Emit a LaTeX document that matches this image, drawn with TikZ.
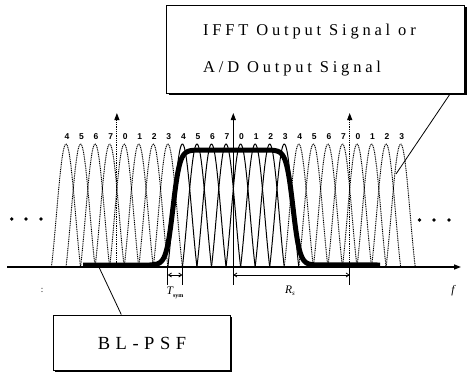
\documentclass[tikz,border=0pt]{standalone}
\usepackage{fontspec}
\setmainfont{Liberation Serif}
\newfontfamily\boxfont[LetterSpace=23]{Liberation Serif}
\newfontfamily\psffont[LetterSpace=30]{Liberation Serif}
\newfontfamily\numfont{Liberation Sans}
\usetikzlibrary{arrows.meta,shadows}
\begin{document}
\begin{tikzpicture}[x=1pt,y=-1pt,
  dothump/.style={line width=0.95pt, dash pattern=on 1pt off 0.8pt},
  solhump/.style={line width=1pt},
  psf/.style={line width=5pt, line join=round, line cap=butt},
  labbox/.style={draw, fill=white, line width=0.9pt,
    drop shadow={shadow xshift=1.8pt, shadow yshift=-1.8pt, opacity=1, fill=black}},
  peakarrow/.style={-{Triangle[length=7pt,width=5pt]}, line width=1pt},
  dotpeak/.style={peakarrow, dash pattern=on 1pt off 0.8pt},
  dimarrow/.style={{Straight Barb[length=3pt,width=4pt]}-{Straight Barb[length=3pt,width=4pt]}, line width=0.8pt},
  tick/.style={line width=0.8pt},
  dot/.style={circle, fill, inner sep=0pt, minimum size=3.8pt},
  numlab/.style={font=\numfont\bfseries\fontsize{8.5}{9}\selectfont, inner sep=0pt},
  axlab/.style={font=\fontsize{11.5}{11.5}\selectfont\itshape, inner sep=0pt},
  leader/.style={line width=0.8pt}
]
\useasboundingbox (0,0) rectangle (468,375);

% dotted sub-carriers
\foreach \k in {0,...,7,16,17,...,23} {
  \pgfmathsetmacro\px{66+14.55*\k}
  \draw[dothump] plot[domain=-1:1, samples=40, smooth]
    ({\px+14.55*\x},{267-123*sin(180*\x)/(3.14159*\x)});
}
% solid sub-carriers
\foreach \k in {8,...,15} {
  \pgfmathsetmacro\px{66+14.55*\k}
  \draw[solhump] plot[domain=-1:1, samples=40, smooth]
    ({\px+14.55*\x},{267-123*sin(180*\x)/(3.14159*\x)});
}
% index labels
\foreach \k in {0,...,23} {
  \pgfmathsetmacro\px{66+14.55*\k+1}
  \pgfmathtruncatemacro\lab{mod(\k+4,8)}
  \node[numlab] (n\k) at (\px,137) {\lab};
}

% axis
\coordinate (ax0) at (7,267);
\coordinate (ax1) at (461,267);
\draw[-{Triangle[length=7pt,width=5pt]}, line width=1.3pt] (ax0) -- (ax1);

% peak arrows
\coordinate (pa1b) at (116.9,267); \coordinate (pa1t) at (116.9,113);
\coordinate (pa2b) at (233.3,267); \coordinate (pa2t) at (233.3,113);
\coordinate (pa3b) at (349.7,267); \coordinate (pa3t) at (349.7,113);
\draw[dotpeak] (pa1b) -- (pa1t);
\draw[peakarrow] (pa2b) -- (pa2t);
\draw[dotpeak] (pa3b) -- (pa3t);

% BL-PSF thick curve
\draw[psf] (83,265) -- (150,265)
  -- plot[domain=150:215, samples=70] (\x,{265-115/(1+exp(-(\x-173)/3.4))})
  -- plot[domain=251:316, samples=70] (\x,{265-115/(1+exp((\x-293)/3.4))})
  -- (380,265);

% dimension ticks
\coordinate (t1a) at (167.85,267); \coordinate (t1b) at (167.85,285);
\coordinate (t2a) at (182.4,267);  \coordinate (t2b) at (182.4,285);
\coordinate (r1a) at (233.3,267);  \coordinate (r1b) at (233.3,285);
\coordinate (r2a) at (349.7,267);  \coordinate (r2b) at (349.7,285);
\draw[tick] (t1a) -- (t1b);
\draw[tick] (t2a) -- (t2b);
\draw[tick] (r1a) -- (r1b);
\draw[tick] (r2a) -- (r2b);
\draw[dimarrow] ([yshift=-8pt]t1a) -- ([yshift=-8pt]t2a);
\draw[dimarrow] ([yshift=-8pt]r1a) -- ([yshift=-8pt]r2a);

% axis labels
\node[axlab] (tsym) at (175,293) {T\raisebox{-2.5pt}{\upshape\bfseries\fontsize{6}{6}\selectfont sym}};
\node[axlab] (rs) at (290,291) {R\raisebox{-2.5pt}{\fontsize{7}{7}\selectfont s}};
\node[axlab] (fl) at (453,291) {f};
\node[font=\fontsize{9}{9}\selectfont, inner sep=0pt] (mark) at (42,290) {:};

% ellipsis dots
\node[dot] (dl1) at (11.7,219) {};
\node[dot] (dl2) at (26,219) {};
\node[dot] (dl3) at (41,219) {};
\node[dot] (dr1) at (419.5,220) {};
\node[dot] (dr2) at (434,220) {};
\node[dot] (dr3) at (449,220) {};

% top box
\node[labbox, minimum width=298pt, minimum height=88pt] (topbox) at (315.8,49.2) {};
\node[anchor=base west, font=\boxfont\fontsize{16.5}{16.5}\selectfont, inner sep=0pt] (tl1) at (203,35) {IFFT Output Signal or};
\node[anchor=base west, font=\boxfont\fontsize{16.5}{16.5}\selectfont, inner sep=0pt] (tl2) at (203,72) {A/D Output Signal};
\coordinate (sigpt) at (396,174);
\draw[leader] ([xshift=-15pt]topbox.south east) -- (sigpt);

% bottom box
\node[labbox, minimum width=176.7pt, minimum height=55pt] (psfbox) at (141.7,342.5) {};
\node[font=\psffont\fontsize{18.5}{18.5}\selectfont, inner sep=0pt] (psft) at (142,343) {BL-PSF};
\coordinate (psfpt) at (98,265);
\draw[leader] ([xshift=68.4pt]psfbox.north west) -- (psfpt);
\end{tikzpicture}
\end{document}
